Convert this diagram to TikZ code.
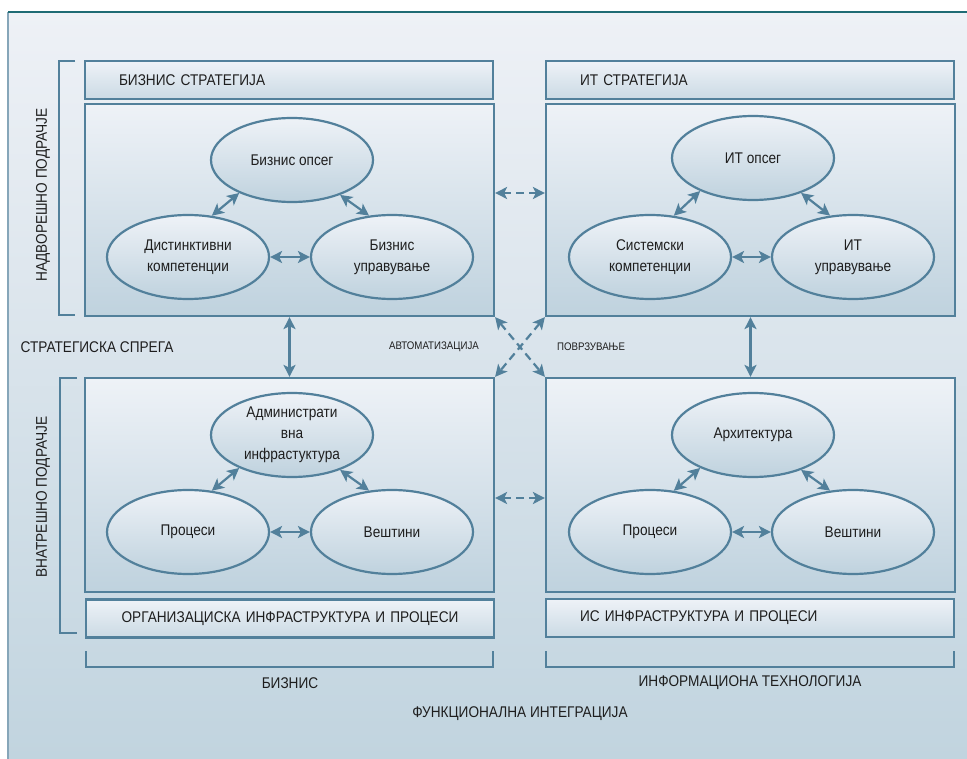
\documentclass[tikz,border=0pt]{standalone}
\usepackage{fontspec}
\setmainfont{Liberation Sans}[FakeStretch=0.88]
\usepackage{tikz}
\usetikzlibrary{positioning,shapes.geometric,arrows.meta}
\definecolor{edge}{HTML}{52809B}
\definecolor{ink}{HTML}{1E1E1E}
\definecolor{framec}{HTML}{1F6B74}
\definecolor{bgtop}{HTML}{EEF1F6}
\definecolor{bgbot}{HTML}{C1D4DF}
\definecolor{boxtop}{HTML}{EEF2F7}
\definecolor{boxbot}{HTML}{BFD2DE}
\newcommand*{\sm}[1]{{\fontsize{11}{13}\selectfont #1}}

\begin{document}
\begin{tikzpicture}[x=1pt,y=-1pt,
  every node/.style={text=ink,font=\fontsize{15.5}{21}\selectfont},
  panel/.style={draw=edge,line width=2.2pt,top color=boxtop,bottom color=boxbot,
    minimum width=409pt,minimum height=212pt,inner sep=0pt},
  strip/.style={draw=edge,line width=2.2pt,top color=boxtop,bottom color=boxbot!75!boxtop,
    minimum width=408pt,minimum height=38pt,inner sep=0pt,text width=340pt,align=left},
  bubble/.style={ellipse,draw=edge,line width=2.2pt,top color=boxtop,bottom color=boxbot,
    minimum width=162pt,minimum height=84pt,inner sep=0pt,align=center},
  link/.style={draw=edge,line width=2.2pt,{Stealth[length=12pt,width=12pt,inset=3pt]}-{Stealth[length=12pt,width=12pt,inset=3pt]}},
  dlink/.style={link,dash pattern=on 8pt off 5pt}]
\useasboundingbox (0,0) rectangle (967,759);
% Background frame
\fill[top color=bgtop,bottom color=bgbot] (8,12) rectangle (967,759);
\draw[edge!70,line width=1.5pt] (8,759) -- (8,12);
\draw[framec,line width=2.5pt] (8,12) -- (967,12);
% Strategy and infrastructure strips
\node[strip] (bstrat) at (289,80) {БИЗНИС СТРАТЕГИЈА};
\node[strip] (istrat) at (750,80) {ИТ СТРАТЕГИЈА};
\node[strip,align=center] (borg) at (290,618.5) {ОРГАНИЗАЦИСКА ИНФРАСТРУКТУРА И ПРОЦЕСИ};
\node[strip] (iorg) at (750,618) {ИС ИНФРАСТРУКТУРА И ПРОЦЕСИ};
% The four panels
\node[panel] (bs) at (289.5,210) {};
\node[panel] (is) at (750.5,210) {};
\node[panel,minimum height=214pt] (bo) at (289.5,485) {};
\node[panel,minimum height=214pt] (io) at (750.5,485) {};
% Bubbles, business strategy
\node[bubble] (bscope) at (292,160) {Бизнис опсег};
\node[bubble] (bcomp) at (188,257) {Дистинктивни\\компетенции};
\node[bubble] (bgov) at (392,257) {Бизнис\\управување};
% Bubbles, IT strategy
\node[bubble] (iscope) at (753,158) {ИТ опсег};
\node[bubble] (icomp) at (650,257) {Системски\\компетенции};
\node[bubble] (igov) at (853,257) {ИТ\\управување};
% Bubbles, organisation
\node[bubble] (badmin) at (292,435) {Администрати\\вна\\инфрастуктура};
\node[bubble] (bproc) at (188,532) {Процеси};
\node[bubble] (bskill) at (392,532) {Вештини};
% Bubbles, IS
\node[bubble] (iarch) at (753,435) {Архитектура};
\node[bubble] (iproc) at (650,532) {Процеси};
\node[bubble] (iskill) at (853,532) {Вештини};
% Arrows inside the panels
\foreach \t/\l/\r in {bscope/bcomp/bgov,iscope/icomp/igov,badmin/bproc/bskill,iarch/iproc/iskill}{
  \draw[link] (\t.212) -- (\l.60);
  \draw[link] (\t.324) -- (\r.119);
  \draw[link] (\l.east) -- (\r.west);
}
% Arrows between the panels
\draw[link] (bs.south) -- (bo.north);
\draw[link] (is.south) -- (io.north);
\draw[dlink] ([yshift=17pt]bs.east) -- ([yshift=17pt]is.west);
\draw[dlink] ([yshift=-13pt]bo.east) -- ([yshift=-13pt]io.west);
\draw[dlink] (bs.south east) -- (io.north west);
\draw[dlink] (is.south west) -- (bo.north east);
% Brackets
\draw[edge,line width=2.2pt] (75,61) -| (59,315) -- (75,315);
\draw[edge,line width=2.2pt] (77,378) -| (60,633) -- (77,633);
\draw[edge,line width=2.2pt] (86,651) |- (493,667) -- (493,651);
\draw[edge,line width=2.2pt] (546,651) |- (954,667) -- (954,651);
% Labels
\node[rotate=90] (outer) at (43,195) {НАДВОРЕШНО ПОДРАЧЈЕ};
\node[rotate=90] (inner) at (43,497) {ВНАТРЕШНО ПОДРАЧЈЕ};
\node (fit) at (97,347) {СТРАТЕГИСКА СПРЕГА};
\node (auto) at (434,347) {\sm{АВТОМАТИЗАЦИЈА}};
\node (linkage) at (591,347) {\sm{ПОВРЗУВАЊЕ}};
\node (bus) at (290,683) {БИЗНИС};
\node (itl) at (750,683) {ИНФОРМАЦИОНА ТЕХНОЛОГИЈА};
\node (fint) at (520,714) {ФУНКЦИОНАЛНА ИНТЕГРАЦИЈА};
\end{tikzpicture}
\end{document}
